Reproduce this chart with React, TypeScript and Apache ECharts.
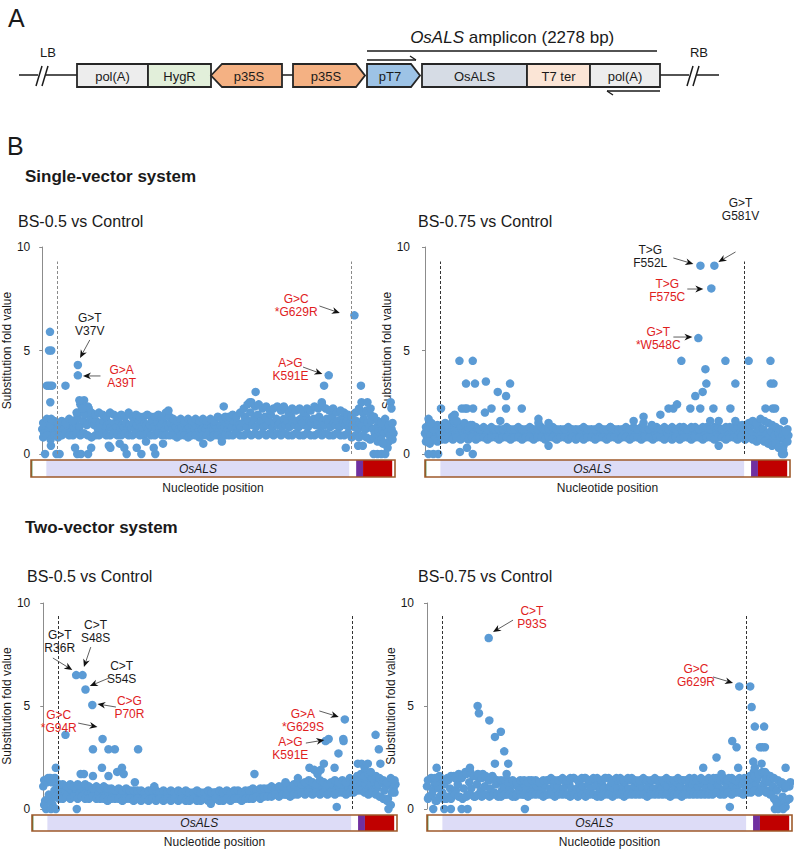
import React, { useEffect, useRef } from 'react';
import * as echarts from 'echarts';

// ---------------- DATA ----------------
const STEP = 12; // bp between sampled nucleotide positions (mid track)
const ENV_STEP = 24; // bp between sampled positions of the cloud's upper / lower edge tracks
const ENV_OFFSET = 6;
const AMPLICON_BP = 2278;
const CDS_START = 96;
const CDS_END = 1993;

// ---- Single-vector system, BS-0.5 vs Control ----
const sv05Band = [
  1.2, 1.0, 1.4, 1.1, 1.3, 0.9, 1.5, 1.2,
  1.3, 1.2, 1.4, 1.1, 1.3, 1.5, 1.2, 1.4, 1.1, 1.3,
  1.5, 1.8, 1.3, 2.1, 1.6, 1.9, 1.4, 2.2, 1.7, 1.5,
  1.4, 1.6, 1.2, 1.5, 1.3, 1.6, 1.2, 1.4, 1.5, 1.3,
  1.2, 1.5, 1.3, 1.6, 1.2, 1.4, 1.3, 1.5, 1.2, 1.4,
  1.3, 1.5, 1.2, 1.4, 1.6, 1.3, 1.2, 1.5, 1.4, 1.2,
  1.4, 1.6, 1.3, 1.2, 1.5, 1.3, 1.4, 1.6, 1.2, 1.4,
  1.3, 1.5, 1.2, 1.4, 1.3, 1.1, 1.4, 1.3, 1.2, 1.4,
  1.2, 1.3, 1.1, 1.4, 1.2, 1.3, 1.1, 1.4, 1.2, 1.3,
  1.2, 1.4, 1.1, 1.3, 1.2, 1.4, 1.3, 1.1, 1.4, 1.2,
  1.3, 1.5, 1.2, 1.4, 1.3, 1.6, 1.2, 1.5, 1.4, 1.3,
  1.5, 1.8, 1.3, 1.6, 2.0, 1.4, 1.7, 1.3, 1.9, 1.5,
  1.6, 1.3, 1.8, 1.4, 1.6, 1.9, 1.3, 1.5, 1.7, 1.4,
  1.5, 1.3, 1.7, 1.4, 1.6, 1.3, 1.8, 1.5, 1.4, 1.6,
  1.3, 1.7, 1.5, 1.4, 1.8, 1.3, 1.6, 1.5, 1.7, 1.4,
  1.5, 1.8, 1.3, 1.6, 1.4, 1.7, 1.5, 1.3, 1.8, 1.5,
  1.4, 1.6, 1.3, 1.7, 1.5, 1.4, 1.6, 1.3, 1.5, 1.4,
  1.3, 1.6, 1.2, 1.5, 1.4, 1.7, 1.2, 1.5, 1.3, 1.6,
  1.2, 1.0, 1.3, 1.1, 0.9, 1.2, 1.0, 1.3, 1.1, 0.9, 1.2, 1.0,
];
const sv05Upper = [
  1.5, 1.7, 1.4, 1.6, 1.5, 1.6, 1.5, 1.7, 1.6, 2.0,
  2.4, 2.6, 2.3, 2.0, 1.9, 2.0, 1.9, 1.8, 2.0, 1.9,
  1.8, 1.9, 1.8, 2.0, 1.8, 1.9, 1.8, 1.8, 1.9, 1.8,
  1.8, 1.9, 1.8, 2.0, 1.8, 1.7, 1.6, 1.7, 1.6, 1.7,
  1.6, 1.7, 1.6, 1.7, 1.6, 1.7, 1.6, 1.8, 1.7, 1.8,
  1.8, 1.9, 1.8, 2.0, 2.2, 2.4, 2.5, 2.3, 2.4, 2.2,
  2.3, 2.1, 2.2, 2.3, 2.1, 2.2, 2.0, 2.2, 2.1, 2.2,
  2.0, 2.2, 2.1, 2.3, 2.2, 2.4, 2.2, 2.1, 2.2, 2.0,
  2.1, 2.0, 1.9, 1.8, 2.0, 2.2, 2.0, 2.1, 1.9, 1.8,
  1.6, 1.5, 1.7, 1.4, 1.5,
];
const sv05Lower = [
  0.8, 0.9, 0.7, 0.9, 0.8, 0.9, 1.0, 0.9, 0.9, 1.0,
  0.9, 1.0, 0.9, 0.8, 0.9, 0.9, 1.0, 0.9, 0.9, 1.0,
  0.9, 0.9, 1.0, 0.9, 0.9, 1.0, 0.9, 0.9, 1.0, 0.9,
  0.9, 1.0, 0.9, 0.9, 0.9, 0.9, 0.8, 0.9, 0.9, 0.8,
  0.9, 0.9, 0.8, 0.9, 0.9, 0.8, 0.9, 0.9, 0.8, 0.9,
  0.9, 0.9, 1.0, 0.9, 0.9, 1.0, 0.9, 1.0, 0.9, 1.0,
  0.9, 1.0, 0.9, 1.0, 0.9, 1.0, 0.9, 0.9, 1.0, 0.9,
  0.9, 1.0, 0.9, 0.9, 1.0, 0.9, 1.0, 0.9, 0.9, 1.0,
  0.9, 0.9, 1.0, 0.8, 0.9, 0.8, 0.9, 0.8, 0.7, 0.8,
  0.6, 0.7, 0.5, 0.6, 0.7,
];
const sv05Outliers = [
  [50, 5.9], [44, 5.0], [58, 5.0], [30, 3.3], [42, 3.3], [54, 3.3], [64, 3.3], [52, 2.5], [58, 1.7], [56, 0.4],
  [18, 0], [92, 0], [112, 0], [150, 3.3], [230, 4.3], [230, 3.8], [226, 0], [250, 0], [296, 0], [212, 0.3],
  [316, 0.3], [240, 2.6], [262, 2.2], [430, 0.4], [440, 0.3], [500, 0.5], [530, 0.3], [545, 0], [610, 0.3],
  [640, 0], [670, 0.6], [720, 0.3], [730, 0], [780, 0.5], [815, 2.1], [1040, 0.5], [1172, 2.3], [1160, 0.6],
  [1378, 3.0], [1340, 2.5], [1560, 2.3], [1805, 2.5], [1820, 3.3], [1850, 3.8], [2016, 6.7], [1960, 0.3],
  [2040, 0.4], [2070, 0.4], [2058, 3.3], [2062, 2.5], [2100, 2.5], [2120, 2.2], [2140, 0], [2165, 0], [2190, 0],
  [2215, 0], [2230, 0.3], [2200, 0.5], [2250, 2.5], [2255, 2.2],
];

// ---- Single-vector system, BS-0.75 vs Control ----
const sv075Band = [
  1.0, 0.8, 1.1, 0.9, 1.2, 0.8, 1.0, 1.1,
  1.0, 1.1, 0.9, 1.2, 1.0, 1.1, 0.9, 1.2, 1.0, 1.1,
  1.0, 1.2, 0.9, 1.1, 1.0, 1.1, 0.9, 1.0, 1.1, 0.9,
  1.0, 1.1, 0.9, 1.0, 1.0, 0.9, 1.1, 1.0, 0.9, 1.0,
  1.1, 0.9, 1.0, 1.0, 1.1, 0.9, 1.0, 1.1, 0.9, 1.0,
  1.0, 0.9, 1.1, 1.0, 0.9, 1.0, 1.1, 1.0, 0.9, 1.0,
  1.1, 1.0, 0.9, 1.0, 1.1, 0.9, 1.0, 1.0, 1.1, 0.9,
  1.0, 1.1, 0.9, 1.0, 1.0, 1.1, 0.9, 1.0, 1.1, 1.0,
  0.9, 1.0, 1.1, 0.9, 1.0, 1.0, 1.1, 0.9, 1.0, 1.1,
  1.0, 0.9, 1.0, 1.1, 1.0, 0.9, 1.0, 1.1, 0.9, 1.0,
  1.1, 1.0, 0.9, 1.0, 1.1, 1.0, 0.9, 1.1, 1.0, 0.9,
  1.0, 1.1, 0.9, 1.0, 1.0, 1.1, 0.9, 1.0, 1.1, 1.0,
  0.9, 1.0, 1.1, 1.0, 0.9, 1.1, 1.0, 0.9, 1.0, 1.1,
  1.0, 0.9, 1.1, 1.0, 1.0, 0.9, 1.1, 1.0, 0.9, 1.0,
  1.1, 1.0, 0.9, 1.0, 1.1, 1.0, 0.9, 1.1, 1.0, 1.0,
  0.9, 1.1, 1.0, 0.9, 1.0, 1.1, 1.0, 0.9, 1.1, 1.0,
  1.0, 1.1, 0.9, 1.0, 1.2, 1.0, 1.1, 0.9, 1.2, 1.0,
  1.1, 1.3, 1.0, 1.4, 0.9, 1.2, 1.3, 1.0, 1.2, 0.9,
  1.0, 0.8, 1.1, 0.7, 0.9, 0.6, 1.0, 0.8, 0.9, 0.7, 1.0, 0.9,
];
const sv075Upper = [
  1.3, 1.5, 1.2, 1.4, 1.3, 1.5, 1.4, 1.6, 1.5, 1.4,
  1.5, 1.3, 1.4, 1.3, 1.2, 1.3, 1.2, 1.3, 1.2, 1.2,
  1.2, 1.3, 1.2, 1.2, 1.3, 1.2, 1.2, 1.3, 1.2, 1.2,
  1.3, 1.2, 1.2, 1.3, 1.2, 1.2, 1.2, 1.3, 1.2, 1.2,
  1.2, 1.3, 1.2, 1.2, 1.2, 1.3, 1.2, 1.2, 1.3, 1.2,
  1.2, 1.2, 1.3, 1.2, 1.3, 1.2, 1.3, 1.2, 1.2, 1.3,
  1.3, 1.2, 1.3, 1.2, 1.3, 1.2, 1.3, 1.3, 1.2, 1.3,
  1.3, 1.2, 1.3, 1.3, 1.2, 1.3, 1.3, 1.2, 1.3, 1.3,
  1.3, 1.4, 1.3, 1.4, 1.5, 1.6, 1.5, 1.7, 1.6, 1.5,
  1.4, 1.3, 1.2, 1.1, 1.2,
];
const sv075Lower = [
  0.6, 0.5, 0.7, 0.6, 0.7, 0.7, 0.8, 0.7, 0.8, 0.7,
  0.8, 0.7, 0.8, 0.7, 0.8, 0.8, 0.7, 0.8, 0.8, 0.7,
  0.8, 0.8, 0.7, 0.8, 0.8, 0.7, 0.8, 0.8, 0.7, 0.8,
  0.8, 0.7, 0.8, 0.8, 0.7, 0.8, 0.8, 0.7, 0.8, 0.7,
  0.8, 0.7, 0.8, 0.8, 0.7, 0.8, 0.8, 0.7, 0.8, 0.8,
  0.7, 0.8, 0.8, 0.7, 0.8, 0.8, 0.7, 0.8, 0.8, 0.7,
  0.8, 0.8, 0.7, 0.8, 0.7, 0.8, 0.7, 0.8, 0.8, 0.7,
  0.8, 0.8, 0.7, 0.8, 0.8, 0.7, 0.8, 0.8, 0.7, 0.8,
  0.8, 0.7, 0.8, 0.7, 0.8, 0.7, 0.6, 0.7, 0.6, 0.5,
  0.4, 0.5, 0.3, 0.4, 0.6,
];
const sv075Outliers = [
  [20, 0.6], [22, 1.7], [40, 1.5], [22, 0], [52, 0], [82, 0], [100, 2.2], [135, 1.4], [170, 1.8], [185, 1.9],
  [198, 1.6], [215, 4.5], [298, 4.5], [256, 3.4], [312, 3.4], [230, 2.2], [250, 2.2], [262, 2.2], [300, 2.2],
  [283, 1.4], [218, 0.1], [262, 0.3], [298, 0], [380, 3.5], [374, 2.0], [415, 2.2], [454, 3.0], [470, 1.6],
  [506, 2.8], [506, 2.2], [531, 3.4], [604, 2.2], [708, 1.7], [708, 1.5], [771, 1.5], [771, 0.4], [1156, 1.3],
  [1302, 1.6], [1364, 1.8], [1364, 1.5], [1416, 1.4], [1469, 1.9], [1520, 2.2], [1550, 2.2], [1573, 2.4],
  [1600, 4.5], [1656, 2.2], [1687, 2.8], [1733, 3.0], [1718, 2.2], [1706, 5.6], [1719, 9.1], [1750, 4.1],
  [1756, 3.4], [1787, 8.0], [1806, 9.1], [1800, 2.2], [1780, 1.6], [1833, 0.4], [1833, 1.6], [1875, 4.5],
  [1906, 2.2], [1937, 3.4], [1937, 1.6], [1979, 1.4], [2020, 4.5], [2125, 2.2], [2156, 4.5], [2158, 3.4],
  [2175, 3.4], [2170, 2.2], [2185, 2.2], [2208, 0.3], [2228, 0], [2240, 0], [2235, 0.2], [2240, 1.6], [2250, 1.1],
];

// ---- Two-vector system, BS-0.5 vs Control ----
const tv05Band = [
  1.1, 0.4, 1.3, 0.7, 1.5, 0.2, 0.9, 1.2,
  0.8, 1.1, 0.6, 1.0, 0.9, 0.7, 1.0, 0.8, 1.1, 0.7,
  0.9, 0.7, 1.0, 0.6, 0.9, 0.8, 0.7, 1.0, 0.8, 0.9,
  0.7, 0.9, 0.8, 1.0, 0.6, 0.8, 0.9, 0.7, 0.9, 0.8,
  0.8, 0.6, 0.9, 0.7, 0.6, 0.8, 0.7, 0.8, 0.6, 0.8,
  0.7, 0.6, 0.8, 0.7, 0.8, 0.6, 0.7, 0.6, 0.8, 0.7,
  0.6, 0.8, 0.6, 0.7, 0.7, 0.5, 0.8, 0.6, 0.7, 0.6,
  0.7, 0.8, 0.6, 0.7, 0.6, 0.5, 0.7, 0.7, 0.6, 0.8,
  0.6, 0.7, 0.5, 0.7, 0.8, 0.6, 0.7, 0.6, 0.7, 0.6,
  0.7, 0.5, 0.7, 0.6, 0.8, 0.6, 0.7, 0.7, 0.5, 0.6,
  0.8, 0.6, 0.7, 0.5, 0.7, 0.6, 0.8, 0.6, 0.7, 0.8,
  0.6, 0.7, 0.6, 0.9, 0.7, 0.6, 0.8, 0.7, 0.9, 0.7,
  0.8, 0.7, 0.9, 0.7, 1.0, 0.8, 0.7, 1.0, 0.8, 0.9,
  0.8, 1.0, 0.7, 0.9, 1.1, 0.8, 1.0, 0.9, 1.2, 0.9,
  1.1, 0.8, 1.2, 1.0, 0.9, 1.1, 1.3, 1.0, 1.1, 0.9,
  1.2, 1.0, 1.3, 0.9, 1.1, 1.2, 1.0, 1.1, 1.0, 0.9,
  1.2, 1.0, 1.1, 0.9, 1.3, 1.1, 1.0, 1.2, 1.0, 1.1,
  1.4, 1.1, 1.3, 1.0, 1.5, 1.2, 1.4, 1.0, 1.2, 0.9,
  1.3, 1.0, 1.2, 0.6, 1.3, 0.9, 1.1, 0.5, 1.2, 0.8, 1.0, 1.2,
];
const tv05Upper = [
  1.4, 1.5, 1.3, 1.5, 1.2, 1.2, 1.1, 1.2, 1.1, 1.2,
  1.1, 1.2, 1.1, 1.0, 1.1, 1.0, 1.1, 1.0, 1.0, 0.9,
  1.0, 0.9, 1.0, 0.9, 0.9, 0.9, 0.9, 0.8, 0.9, 0.9,
  0.9, 0.8, 0.9, 0.8, 0.9, 0.8, 0.9, 0.8, 0.9, 0.8,
  0.8, 0.9, 0.8, 0.8, 0.9, 0.8, 0.8, 0.9, 0.8, 0.9,
  0.8, 0.9, 0.9, 0.8, 0.9, 0.9, 1.0, 0.9, 1.0, 1.0,
  1.0, 1.1, 1.0, 1.1, 1.1, 1.2, 1.1, 1.2, 1.3, 1.2,
  1.3, 1.4, 1.3, 1.2, 1.4, 1.3, 1.2, 1.3, 1.4, 1.3,
  1.4, 1.3, 1.5, 1.4, 1.6, 1.7, 1.6, 1.7, 1.5, 1.6,
  1.5, 1.4, 1.3, 1.5, 1.4,
];
const tv05Lower = [
  0.2, 0.5, 0.3, 0.6, 0.5, 0.5, 0.6, 0.5, 0.6, 0.5,
  0.6, 0.5, 0.5, 0.6, 0.5, 0.5, 0.5, 0.4, 0.5, 0.5,
  0.5, 0.4, 0.5, 0.5, 0.4, 0.5, 0.4, 0.5, 0.4, 0.5,
  0.4, 0.5, 0.4, 0.5, 0.4, 0.5, 0.4, 0.5, 0.4, 0.4,
  0.5, 0.4, 0.4, 0.5, 0.4, 0.4, 0.5, 0.4, 0.4, 0.5,
  0.4, 0.5, 0.5, 0.4, 0.5, 0.5, 0.5, 0.6, 0.5, 0.6,
  0.6, 0.6, 0.7, 0.6, 0.7, 0.7, 0.6, 0.7, 0.7, 0.8,
  0.7, 0.8, 0.7, 0.8, 0.7, 0.8, 0.7, 0.8, 0.7, 0.8,
  0.8, 0.7, 0.8, 0.8, 0.9, 0.9, 0.8, 0.7, 0.8, 0.7,
  0.6, 0.5, 0.4, 0.2, 0.8,
];
const tv05Outliers = [
  [81, 2.0], [18, 0], [50, 0], [81, 0], [40, 1.5], [70, 1.5], [143, 3.6], [212, 6.5], [253, 6.5], [272, 5.8],
  [316, 5.05], [382, 3.4], [320, 2.9], [420, 2.9], [461, 2.9], [611, 2.9], [378, 2.0], [420, 1.6], [476, 1.8],
  [507, 2.0], [518, 1.7], [241, 1.7], [262, 1.7], [320, 1.6], [216, 0], [590, 1.3], [715, 1.1], [1079, 0.25],
  [1360, 1.7], [1560, 1.3], [1640, 1.5], [1714, 2.0], [1745, 1.9], [1766, 1.7], [1786, 1.9], [1807, 2.2],
  [1818, 3.3], [1838, 3.4], [1942, 4.35], [1932, 3.4], [1934, 3.3], [1901, 2.7], [1876, 2.0], [1890, 0.1],
  [2026, 2.2], [2050, 2.2], [2070, 2.0], [2090, 2.2], [2109, 1.8], [2140, 3.6], [2161, 2.9], [2171, 2.2],
  [2223, 0],
];

// ---- Two-vector system, BS-0.75 vs Control ----
const tv075Band = [
  1.1, 0.6, 1.5, 0.9, 1.2, 0.4, 1.0, 1.3,
  0.8, 1.2, 0.5, 1.4, 1.0, 0.7, 1.6, 0.9, 1.2, 0.6,
  1.5, 1.0, 1.8, 0.7, 1.3, 1.0, 1.6, 0.6, 1.2, 1.5,
  0.9, 1.7, 1.1, 0.7, 1.4, 1.0, 1.6, 0.8, 1.2, 0.6,
  1.3, 0.9, 1.1, 0.7, 1.4, 1.0, 0.8, 1.2, 0.6, 1.1,
  0.9, 1.3, 0.7, 1.1, 1.0, 1.4, 0.8, 1.2, 0.9, 1.1,
  1.3, 0.8, 1.0, 1.2, 0.7, 1.4, 1.0, 0.9, 1.2, 0.8,
  1.1, 1.4, 0.9, 1.0, 1.3, 0.7, 1.2, 1.0, 1.5, 0.8,
  1.0, 1.3, 0.9, 1.1, 1.5, 0.8, 1.2, 1.0, 1.4, 0.7,
  1.1, 1.3, 0.9, 1.2, 1.0, 1.5, 0.8, 1.1, 1.3, 0.9,
  1.2, 1.0, 1.4, 0.8, 1.1, 1.3, 0.9, 1.0, 1.4, 0.8,
  1.1, 1.3, 0.9, 1.2, 1.0, 1.4, 0.8, 1.1, 1.3, 0.9,
  1.0, 1.4, 0.8, 1.2, 1.0, 1.3, 0.9, 1.1, 1.4, 0.8,
  1.2, 1.0, 1.3, 0.9, 1.1, 1.4, 0.8, 1.0, 1.3, 0.9,
  1.2, 1.5, 0.9, 1.1, 1.3, 0.8, 1.2, 1.0, 1.4, 0.9,
  1.1, 1.5, 0.8, 1.2, 1.0, 1.4, 0.9, 1.3, 1.1, 1.5,
  0.9, 1.2, 1.4, 1.0, 1.3, 0.8, 1.2, 1.5, 1.0, 1.3,
  1.6, 1.1, 1.8, 1.3, 1.5, 1.0, 1.7, 1.2, 1.4, 0.9,
  1.3, 0.8, 1.1, 0.5, 0.9, 0.3, 1.2, 0.6, 1.0, 0.4, 1.1, 1.3,
];
const tv075Upper = [
  1.4, 1.5, 1.3, 1.6, 1.4, 1.5, 1.6, 1.5, 1.7, 1.6,
  1.7, 1.8, 1.6, 1.7, 1.5, 1.6, 1.4, 1.5, 1.4, 1.4,
  1.4, 1.3, 1.4, 1.3, 1.4, 1.4, 1.3, 1.4, 1.4, 1.3,
  1.4, 1.4, 1.5, 1.4, 1.4, 1.5, 1.4, 1.5, 1.5, 1.4,
  1.5, 1.5, 1.4, 1.5, 1.5, 1.4, 1.5, 1.5, 1.4, 1.5,
  1.5, 1.4, 1.5, 1.5, 1.4, 1.4, 1.5, 1.4, 1.4, 1.5,
  1.4, 1.4, 1.5, 1.4, 1.4, 1.5, 1.4, 1.4, 1.5, 1.4,
  1.4, 1.5, 1.4, 1.5, 1.4, 1.5, 1.4, 1.5, 1.4, 1.5,
  1.4, 1.5, 1.4, 1.4, 1.5, 1.6, 1.7, 1.8, 1.7, 1.6,
  1.5, 1.4, 1.3, 1.2, 1.1,
];
const tv075Lower = [
  0.5, 0.7, 0.4, 0.6, 0.5, 0.6, 0.5, 0.7, 0.6, 0.5,
  0.6, 0.7, 0.6, 0.7, 0.6, 0.7, 0.6, 0.7, 0.7, 0.6,
  0.7, 0.7, 0.6, 0.7, 0.7, 0.7, 0.6, 0.7, 0.7, 0.7,
  0.6, 0.7, 0.7, 0.6, 0.7, 0.7, 0.7, 0.6, 0.7, 0.6,
  0.7, 0.6, 0.7, 0.7, 0.6, 0.6, 0.7, 0.7, 0.6, 0.7,
  0.7, 0.6, 0.7, 0.7, 0.7, 0.7, 0.7, 0.6, 0.7, 0.7,
  0.7, 0.7, 0.7, 0.6, 0.7, 0.7, 0.6, 0.7, 0.7, 0.7,
  0.7, 0.7, 0.7, 0.7, 0.7, 0.8, 0.7, 0.7, 0.8, 0.7,
  0.8, 0.8, 0.7, 0.8, 0.8, 0.9, 0.8, 0.9, 0.8, 0.7,
  0.5, 0.3, 0.2, 0.1, 0.5,
];
const tv075Outliers = [
  [39, 0], [60, 2.0], [50, 1.5], [108, 0], [149, 0], [216, 0], [253, 0], [611, 0], [268, 2.0], [316, 5.0],
  [324, 4.65], [389, 4.3], [385, 8.3], [424, 3.5], [461, 3.75], [424, 2.2], [482, 2.8], [507, 2.2], [497, 1.7],
  [1724, 2.0], [1807, 2.5], [1905, 3.3], [1932, 3.0], [1942, 2.0], [1890, 0.1], [1949, 5.95], [1838, 1.7],
  [2017, 5.95], [2026, 4.95], [2046, 4.0], [2104, 4.0], [2078, 3.0], [2092, 3.0], [2109, 3.0], [2036, 2.3],
  [2046, 2.0], [2088, 2.2], [2109, 1.8], [2171, 0], [2192, 0], [2223, 0], [2182, 0.3], [2238, 2.0], [2238, 1.1],
];

// Gene map under each panel (bp)
const geneSegStart = [0, 10, CDS_START, CDS_END, 2035, 2078, 2262];
const geneSegEnd = [10, CDS_START, CDS_END, 2035, 2078, 2262, AMPLICON_BP];
const geneSegLabel = ['', '', 'OsALS', '', '', '', ''];

// Annotations: label centre, arrow start and arrow tip, in data units (bp, fold value)
const sv05Notes = [
  { lines: ['G>T', 'V37V'], red: false, label: [307, 6.28], from: [307, 5.51], to: [244, 4.64] },
  { lines: ['G>A', 'A39T'], red: true, label: [513, 3.74], from: [376, 3.77], to: [263, 3.77] },
  { lines: ['G>C', '*G629R'], red: true, label: [1640, 7.15], from: [1790, 7.15], to: [1922, 6.81] },
  { lines: ['A>G', 'K591E'], red: true, label: [1603, 4.1], from: [1684, 4.2], to: [1809, 3.86] },
];
const sv075Notes = [
  { lines: ['G>T', 'G581V'], red: false, label: [1969, 11.79], from: [1938, 9.76], to: [1831, 9.28] },
  { lines: ['T>G', 'F552L'], red: false, label: [1406, 9.54], from: [1550, 9.47], to: [1675, 9.18] },
  { lines: ['T>G', 'F575C'], red: true, label: [1512, 7.92], from: [1637, 7.97], to: [1737, 7.97] },
  { lines: ['G>T', '*W548C'], red: true, label: [1456, 5.58], from: [1550, 5.65], to: [1669, 5.65] },
];
const tv05Notes = [
  { lines: ['G>T', 'R36R'], red: false, label: [106, 8.13], from: [62, 7.33], to: [187, 6.75] },
  { lines: ['C>T', 'S48S'], red: false, label: [337, 8.62], from: [306, 7.86], to: [262, 6.89] },
  { lines: ['C>T', 'S54S'], red: false, label: [505, 6.63], from: [424, 6.36], to: [300, 5.97] },
  { lines: ['C>G', 'P70R'], red: true, label: [555, 4.93], from: [468, 4.95], to: [349, 5.1] },
  { lines: ['G>C', '*G94R'], red: true, label: [100, 4.25], from: [225, 4.17], to: [349, 3.98] },
  { lines: ['G>A', '*G629S'], red: true, label: [1672, 4.32], from: [1778, 4.76], to: [1903, 4.47] },
  { lines: ['A>G', 'K591E'], red: true, label: [1591, 2.96], from: [1691, 3.2], to: [1810, 3.35] },
];
const tv075Notes = [
  { lines: ['C>T', 'P93S'], red: true, label: [655, 9.3], from: [537, 9.17], to: [412, 8.59] },
  { lines: ['G>C', 'G629R'], red: true, label: [1679, 6.5], from: [1785, 6.41], to: [1910, 6.12] },
];

// ---------------- STYLE / LAYOUT ----------------
const FONT = '"Liberation Sans", Arial, Helvetica, sans-serif';
const BLUE = '#5b9bd5';
const RED = '#e0211d';
const TXT = '#1a1a1a';
const GENE_COLORS = ['#3d7a35', '#ffffff', '#dddcf7', '#ffffff', '#7030a0', '#c00000', '#ffffff'];

const panels = [
  { band: sv05Band, upper: sv05Upper, lower: sv05Lower, outliers: sv05Outliers, notes: sv05Notes, left: 31, top: 247, width: 364, height: 207, axisOffset: 2, dashTop: 9.3, dashColor: '#8a8a8a', barTop: 460, title: 'BS-0.5 vs Control', titleX: 18, titleY: 221 },
  { band: sv075Band, upper: sv075Upper, lower: sv075Lower, outliers: sv075Outliers, notes: sv075Notes, left: 425, top: 247, width: 365, height: 207, axisOffset: 5, dashTop: 9.3, dashColor: '#333333', barTop: 460, title: 'BS-0.75 vs Control', titleX: 418, titleY: 221 },
  { band: tv05Band, upper: tv05Upper, lower: tv05Lower, outliers: tv05Outliers, notes: tv05Notes, left: 32, top: 603, width: 365, height: 206, axisOffset: 3, dashTop: 9.4, dashColor: '#333333', barTop: 815, title: 'BS-0.5 vs Control', titleX: 27, titleY: 576 },
  { band: tv075Band, upper: tv075Upper, lower: tv075Lower, outliers: tv075Outliers, notes: tv075Notes, left: 427, top: 603, width: 365, height: 206, axisOffset: 3, dashTop: 9.4, dashColor: '#333333', barTop: 815, title: 'BS-0.75 vs Control', titleX: 418, titleY: 576 },
];
const BAR_H = 17;

function buildOption() {
  const grid: any[] = [];
  const xAxis: any[] = [];
  const yAxis: any[] = [];
  const series: any[] = [];
  panels.forEach((p, i) => {
    grid[i] = { left: p.left, top: p.top, width: p.width, height: p.height };
    grid[4 + i] = { left: p.left, top: p.barTop, width: p.width, height: BAR_H };
    xAxis[i] = { gridIndex: i, type: 'value', min: 0, max: AMPLICON_BP, show: false };
    yAxis[i] = {
      gridIndex: i, type: 'value', min: 0, max: 10, interval: 5, offset: p.axisOffset,
      axisLine: { show: true, lineStyle: { color: '#8c8c8c', width: 1 } },
      axisTick: { show: true, length: 3, lineStyle: { color: '#8c8c8c' } },
      axisLabel: { fontSize: 12, color: TXT, margin: 10, fontFamily: FONT },
      splitLine: { show: false },
      name: 'Substitution fold value', nameLocation: 'middle', nameGap: 14,
      nameTextStyle: { fontSize: 12, color: TXT, fontFamily: FONT },
    };
    xAxis[4 + i] = {
      gridIndex: 4 + i, type: 'value', min: 0, max: AMPLICON_BP,
      axisLine: { show: false }, axisTick: { show: false }, axisLabel: { show: false }, splitLine: { show: false },
      name: 'Nucleotide position', nameLocation: 'middle', nameGap: 5,
      nameTextStyle: { fontSize: 12, color: TXT, fontFamily: FONT },
    };
    yAxis[4 + i] = { gridIndex: 4 + i, type: 'value', min: 0, max: 1, show: false };

    const pts = p.band.map((v, k) => [k * STEP, v])
      .concat(p.upper.map((v, k) => [ENV_OFFSET + k * ENV_STEP, v]))
      .concat(p.lower.map((v, k) => [ENV_OFFSET + k * ENV_STEP, v]))
      .concat(p.outliers);
    series.push({
      type: 'scatter', xAxisIndex: i, yAxisIndex: i, data: pts, symbolSize: 8.5, clip: false, silent: true,
      itemStyle: { color: BLUE, opacity: 1 },
      markLine: {
        silent: true, symbol: ['none', 'none'], label: { show: false },
        lineStyle: { type: [3, 2], color: p.dashColor, width: 1 },
        data: [
          [{ coord: [CDS_START, 0] }, { coord: [CDS_START, p.dashTop] }],
          [{ coord: [CDS_END, 0] }, { coord: [CDS_END, p.dashTop] }],
        ],
      },
    });
    series.push({
      type: 'custom', xAxisIndex: 4 + i, yAxisIndex: 4 + i, silent: true,
      data: geneSegStart.map((s, k) => [s, geneSegEnd[k]]),
      renderItem: (params: any, api: any) => {
        const a = api.coord([api.value(0), 1]);
        const b = api.coord([api.value(1), 0]);
        const idx = params.dataIndex;
        const rect = { type: 'rect', shape: { x: a[0], y: a[1], width: b[0] - a[0], height: b[1] - a[1] }, style: { fill: GENE_COLORS[idx] } };
        if (geneSegLabel[idx]) {
          return {
            type: 'group',
            children: [rect, {
              type: 'text', x: (a[0] + b[0]) / 2, y: (a[1] + b[1]) / 2,
              style: { text: geneSegLabel[idx], textAlign: 'center', textVerticalAlign: 'middle', font: `italic 12px ${FONT}`, fill: TXT },
            }],
          };
        }
        return rect;
      },
    });
    series.push({
      type: 'custom', xAxisIndex: 4 + i, yAxisIndex: 4 + i, silent: true, z: 5,
      data: [[0, AMPLICON_BP]],
      renderItem: (_params: any, api: any) => {
        const a = api.coord([api.value(0), 1]);
        const b = api.coord([api.value(1), 0]);
        return { type: 'rect', shape: { x: a[0], y: a[1], width: b[0] - a[0], height: b[1] - a[1] }, style: { fill: 'none', stroke: '#9e5a2b', lineWidth: 1.6 } };
      },
    });
  });
  return { animation: false, backgroundColor: '#ffffff', grid, xAxis, yAxis, series };
}

function txt(x: number, y: number, text: string, size: number, opts: any = {}) {
  return {
    type: 'text', x, y, silent: true, z: 20,
    style: {
      text, fill: opts.fill || TXT, textAlign: opts.align || 'center', textVerticalAlign: 'middle',
      font: `${opts.style || ''} ${opts.weight || ''} ${size}px ${FONT}`.trim(), lineHeight: opts.lineHeight,
    },
  };
}
function ln(x1: number, y1: number, x2: number, y2: number, w = 1.5, color = '#1a1a1a') {
  return { type: 'line', silent: true, z: 20, shape: { x1, y1, x2, y2 }, style: { stroke: color, lineWidth: w } };
}
function box(x: number, y: number, w: number, h: number, fill: string) {
  return { type: 'rect', silent: true, z: 20, shape: { x, y, width: w, height: h }, style: { fill, stroke: '#262626', lineWidth: 1.8 } };
}
function poly(points: number[][], fill: string) {
  return { type: 'polygon', silent: true, z: 20, shape: { points }, style: { fill, stroke: '#262626', lineWidth: 1.8, lineJoin: 'miter' } };
}
function arrow(p1: number[], p2: number[]) {
  const dx = p2[0] - p1[0], dy = p2[1] - p1[1];
  const len = Math.hypot(dx, dy) || 1;
  const ux = dx / len, uy = dy / len;
  const L = 8, W = 3.4;
  const bx = p2[0] - ux * L, by = p2[1] - uy * L;
  const nx = p2[0] - ux * L * 0.7, ny = p2[1] - uy * L * 0.7;
  const px = -uy, py = ux;
  return [
    { type: 'line', silent: true, z: 20, shape: { x1: p1[0], y1: p1[1], x2: nx, y2: ny }, style: { stroke: '#4d4d4d', lineWidth: 0.9 } },
    { type: 'polygon', silent: true, z: 20, shape: { points: [[p2[0], p2[1]], [bx + px * W, by + py * W], [nx, ny], [bx - px * W, by - py * W]] }, style: { fill: '#111111' } },
  ];
}

function buildGraphics(chart: any) {
  const els: any[] = [];
  els.push(txt(8, 18, 'A', 25, { align: 'left' }));
  els.push(txt(7, 146, 'B', 25, { align: 'left' }));
  els.push(txt(25, 176, 'Single-vector system', 17, { align: 'left', weight: 'bold' }));
  els.push(txt(25, 527, 'Two-vector system', 17, { align: 'left', weight: 'bold' }));

  // Vector map (panel A)
  els.push(ln(19, 75, 38, 75), ln(46, 75, 77, 75));
  els.push(ln(36, 86, 42, 66), ln(42, 86, 48, 66));
  els.push(ln(282, 75, 293, 75));
  els.push(ln(660, 75, 689, 75), ln(697, 75, 719, 75));
  els.push(ln(687, 86, 693, 66), ln(693, 86, 699, 66));
  els.push(txt(48, 52, 'LB', 13), txt(699, 52, 'RB', 13));
  els.push(box(77, 64, 71, 23, '#ededed'), txt(112.5, 76, 'pol(A)', 13));
  els.push(box(148, 64, 63, 23, '#e2efda'), txt(179.5, 76, 'HygR', 13));
  els.push(poly([[211, 75.5], [222, 64], [282, 64], [282, 87], [222, 87]], '#f4b183'), txt(249, 76, 'p35S', 13));
  els.push(poly([[293, 64], [356, 64], [365, 75.5], [356, 87], [293, 87]], '#f4b183'), txt(326, 76, 'p35S', 13));
  els.push(poly([[367, 64], [411, 64], [420, 75.5], [411, 87], [367, 87]], '#9dc3e6'), txt(390, 76, 'pT7', 13));
  els.push(box(422, 64, 105, 23, '#d6dce5'), txt(474.5, 76, 'OsALS', 13));
  els.push(box(527, 64, 63, 23, '#fbe5d6'), txt(558.5, 76, 'T7 ter', 13));
  els.push(box(590, 64, 70, 23, '#ededed'), txt(625, 76, 'pol(A)', 13));
  els.push(ln(367, 51, 657, 51, 1.5));
  els.push(ln(367, 60, 416, 60, 1.4), ln(416, 60, 410, 56, 1.4));
  els.push(ln(607, 91, 660, 91, 1.4), ln(607, 91, 613, 95, 1.4));
  els.push(txt(464, 37, 'OsALS', 17, { align: 'right', style: 'italic' }));
  els.push(txt(464, 37, ' amplicon (2278 bp)', 17, { align: 'left' }));

  panels.forEach((p, i) => {
    els.push(txt(p.titleX, p.titleY, p.title, 16, { align: 'left' }));
    p.notes.forEach((n) => {
      const lp = chart.convertToPixel({ xAxisIndex: i, yAxisIndex: i }, n.label);
      const fp = chart.convertToPixel({ xAxisIndex: i, yAxisIndex: i }, n.from);
      const tp = chart.convertToPixel({ xAxisIndex: i, yAxisIndex: i }, n.to);
      els.push(txt(lp[0], lp[1], n.lines.join('\n'), 12, { fill: n.red ? RED : TXT, lineHeight: 13 }));
      arrow(fp, tp).forEach((e) => els.push(e));
    });
  });
  return els;
}

export default function App() {
  const ref = useRef<HTMLDivElement>(null);
  useEffect(() => {
    if (!ref.current) return;
    const chart = echarts.init(ref.current, undefined, { renderer: 'svg' });
    chart.setOption(buildOption() as any);
    chart.setOption({ graphic: { elements: buildGraphics(chart) } } as any);
    return () => chart.dispose();
  }, []);
  return (
    <div
      ref={ref}
      style={{ position: 'absolute', left: 0, top: 0, width: 794, height: 849, background: '#ffffff' }}
    />
  );
}
